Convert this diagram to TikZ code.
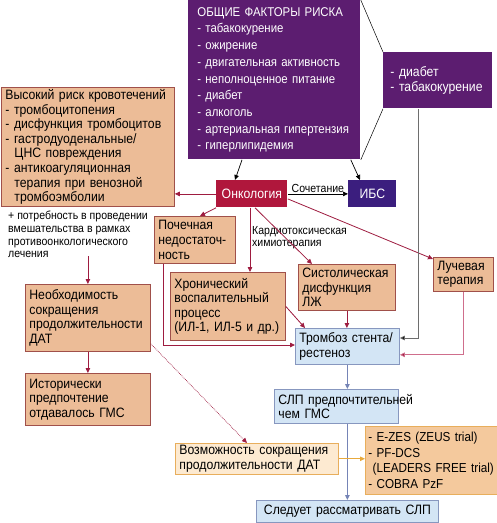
\documentclass[tikz,border=0pt]{standalone}
\usepackage{fontspec}
\setmainfont{Liberation Sans}[FakeStretch=0.9]
\usetikzlibrary{arrows.meta}
\definecolor{purp}{HTML}{5C1D70}
\definecolor{onccol}{HTML}{B0173C}
\definecolor{ibscol}{HTML}{3B1E7E}
\definecolor{tanfill}{HTML}{ECBC97}
\definecolor{tanline}{HTML}{A0504A}
\definecolor{bluefill}{HTML}{D3E5F5}
\definecolor{blueline}{HTML}{8797BF}
\definecolor{creamfill}{HTML}{FDEAD1}
\definecolor{orangeline}{HTML}{E8AE5C}
\definecolor{ezfill}{HTML}{F4C99D}
\definecolor{crim}{HTML}{9E1C40}
\definecolor{pinkline}{HTML}{CF6E8C}
\definecolor{grayline}{HTML}{6E6E6E}
\definecolor{bluearrow}{HTML}{7584B6}
\definecolor{orangearrow}{HTML}{E8A93C}
\tikzset{
  boxbase/.style={anchor=north west, align=left, inner xsep=4pt, inner ysep=2pt,
    font=\fontsize{13.6}{14.6}\selectfont, line width=0.8pt},
  tanbox/.style={boxbase, draw=tanline, fill=tanfill},
  bluebox/.style={boxbase, draw=blueline, fill=bluefill},
  creambox/.style={boxbase, draw=orangeline, fill=creamfill},
  ezbox/.style={boxbase, draw=orangeline, fill=ezfill},
  purpbox/.style={boxbase, fill=purp, text=white},
  smalltext/.style={font=\fontsize{11.7}{12.7}\selectfont, align=left, inner sep=0pt},
  tip/.style={-{Triangle[length=5pt,width=4.5pt]}},
  blkarr/.style={tip, draw=black, line width=0.7pt},
  crimarr/.style={tip, draw=crim, line width=0.8pt},
  pinkarr/.style={-{Triangle[length=5pt,width=4.5pt,fill=crim]}, draw=pinkline, line width=0.8pt},
  grayarr/.style={-{Triangle[length=5pt,width=4.5pt,fill=black]}, draw=grayline, line width=0.8pt},
  bluearr/.style={tip, draw=bluearrow, line width=0.9pt},
  orangearr/.style={tip, draw=orangearrow, line width=0.9pt},
  dotarr/.style={tip, draw=crim, line width=0.7pt, densely dotted},
  thinline/.style={draw=black, line width=0.5pt}
}
\begin{document}
\begin{tikzpicture}[x=1pt,y=-1pt]
\useasboundingbox (0,0) rectangle (497,523);
\fill[white] (0,0) rectangle (497,523);

% purple boxes
\node[purpbox, text width=154pt, minimum height=159pt, inner xsep=9pt, font=\fontsize{12.7}{16.7}\selectfont] (main) at (188,0) {\mbox{ОБЩИЕ ФАКТОРЫ РИСКА}\\- табакокурение\\- ожирение\\\mbox{- двигательная активность}\\\mbox{- неполноценное питание}\\- диабет\\- алкоголь\\\mbox{- артериальная гипертензия}\\- гиперлипидемия};
\node[purpbox, text width=95pt, minimum height=56pt, inner xsep=7pt] (rbox) at (383,52) {- диабет\\\mbox{- табакокурение}};
\draw[thinline] (main.north east) -- (rbox.north west);
\draw[thinline] (main.south east) -- (rbox.south west);

% oncology and IBS
\node[boxbase, fill=onccol, text=white, text width=63pt, minimum height=27pt, align=center] (onc) at (216,180) {Онкология};
\node[boxbase, fill=ibscol, text=white, text width=40pt, minimum height=27pt, align=center] (ibs) at (348,180) {ИБС};
\draw[blkarr] ([xshift=54pt]main.south west) -- ([xshift=19pt]onc.north west);
\draw[blkarr] ([xshift=-10pt]main.south east) -- ([xshift=12pt]ibs.north west);
\draw[blkarr] (onc.east) -- (ibs.west) node[midway, above=1pt, smalltext] {Сочетание};

% left column
\node[tanbox, text width=165pt, minimum height=116pt] (bleed) at (1,87) {\mbox{Высокий риск кровотечений}\\- тромбоцитопения\\\mbox{- дисфункция тромбоцитов}\\\mbox{- гастродуоденальные/}\\\ \ ЦНС повреждения\\\mbox{- антикоагуляционная}\\\mbox{\ \ терапия при венозной}\\\ \ тромбоэмболии};
\draw[crimarr] (onc.west) -- (onc.west -| bleed.east);
\node[smalltext, anchor=north west] (need) at (8,211) {+ потребность в проведении\\вмешательства в рамках\\противоонкологического\\лечения};
\node[tanbox, text width=117pt, minimum height=67pt] (nec) at (25,284) {Необходимость\\сокращения\\\mbox{продолжительности}\\ДАТ};
\node[tanbox, text width=117pt, minimum height=52pt] (hist) at (25,373) {Исторически\\предпочтение\\\mbox{отдавалось ГМС}};
\coordinate (needB) at (nec.north |- need.south);
\draw[crimarr] ([yshift=2pt]needB) -- (nec.north);
\draw[crimarr] (nec.south) -- (hist.north);

% middle boxes
\node[tanbox, text width=73pt, minimum height=47pt] (poch) at (154,216) {Почечная\\\mbox{недостаточ-}\\ность};
\node[tanbox, text width=107pt, minimum height=68pt] (chron) at (170,272) {Хронический\\\mbox{воспалительный}\\процесс\\\mbox{(ИЛ-1, ИЛ-5 и др.)}};
\node[tanbox, text width=89pt, minimum height=46pt] (sys) at (298,264) {\mbox{Систолическая}\\дисфункция\\ЛЖ};
\node[tanbox, text width=52pt, minimum height=34pt] (luch) at (433,257) {Лучевая\\терапия};
\node[bluebox, text width=96pt, minimum height=36pt] (thr) at (295,328) {\mbox{Тромбоз стента/}\\рестеноз};
\node[smalltext, anchor=north west] (chemo) at (252,226) {Кардиотоксическая\\химиотерапия};

\coordinate (oncB) at ([xshift=34pt]onc.south west);
\draw[crimarr] (onc.south west) -- ([xshift=46pt]poch.north west);
\draw[crimarr] (oncB) -- (oncB |- chron.north);
\draw[crimarr] ([xshift=39pt]onc.south west) -- ([xshift=14pt]sys.north west);
\draw[crimarr] ([yshift=-5pt]onc.east) -- ([yshift=-2pt]luch.north west);

\draw[crimarr] ([xshift=9pt]poch.south west) |- ([yshift=-17pt]thr.north west);
\draw[crimarr] (chron.east) -- ([xshift=10pt]thr.north west);
\draw[crimarr] (sys.south) -- (sys.south |- thr.north);
\draw[grayarr] ([xshift=35pt]rbox.south west) |- ([yshift=-10pt]thr.north east);
\draw[pinkarr] (luch.south) |- ([yshift=10pt]thr.south east);

% bottom
\node[bluebox, text width=116pt, minimum height=34pt] (slp) at (274,389) {\mbox{СЛП предпочтительней}\\чем ГМС};
\node[creambox, text width=155pt, minimum height=30pt] (poss) at (175,443) {\mbox{Возможность сокращения}\\\mbox{продолжительности ДАТ}};
\node[ezbox, text width=129pt, minimum height=68pt, inner xsep=3pt, font=\fontsize{13}{15.5}\selectfont] (ezes) at (365,426) {\mbox{- E-ZES (ZEUS trial)}\\- PF-DCS\\\mbox{\ (LEADERS FREE trial)}\\- COBRA PzF};
\node[bluebox, text width=174pt, minimum height=22pt, align=center] (sled) at (256,500) {\mbox{Следует рассматривать СЛП}};

\draw[bluearr] (thr.south) -- (thr.south |- slp.north);
\draw[bluearr] (sled.north |- slp.south) -- (sled.north);
\draw[orangearr] (poss.east) -- (poss.east -| ezes.west);
\draw[dotarr] ([yshift=8pt]nec.south east) -- ([xshift=72pt]poss.north west);
\end{tikzpicture}
\end{document}
